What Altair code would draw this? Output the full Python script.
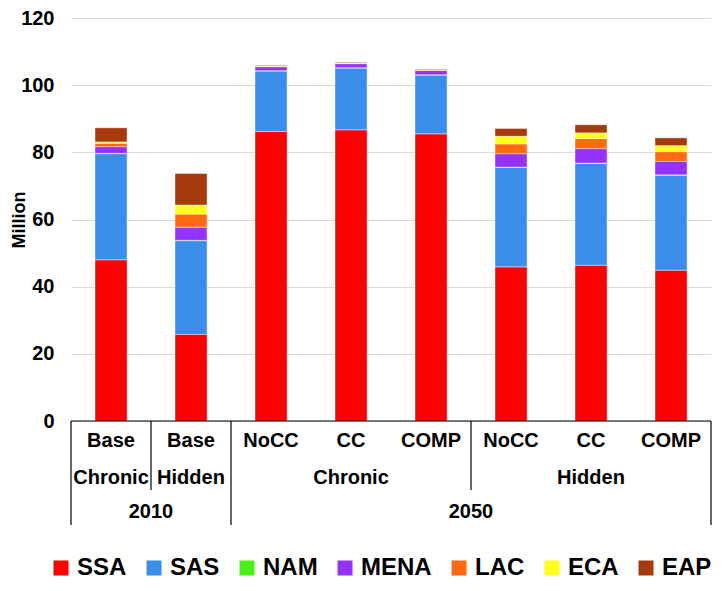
import altair as alt
import pandas as pd

# ---- data ----
cats = ["Base Chronic", "Base Hidden", "NoCC Chronic", "CC Chronic",
        "COMP Chronic", "NoCC Hidden", "CC Hidden", "COMP Hidden"]
scenario = ["Base", "Base", "NoCC", "CC", "COMP", "NoCC", "CC", "COMP"]
regions = ["SSA", "SAS", "NAM", "MENA", "LAC", "ECA", "EAP"]
colors = ["#FF0000", "#3A8EEA", "#4CEE1A", "#9433FF", "#FF6A13", "#FFFF1A", "#A53A0E"]

SSA = [48.0, 25.8, 86.2, 86.7, 85.5, 45.9, 46.4, 44.9]
SAS = [31.6, 27.9, 18.0, 18.4, 17.5, 29.6, 30.3, 28.3]
NAM = [0.1, 0.1, 0.1, 0.1, 0.1, 0.1, 0.1, 0.1]
MENA = [2.0, 3.9, 1.2, 1.2, 1.3, 4.0, 4.3, 4.0]
LAC = [1.0, 3.9, 0.1, 0.1, 0.1, 2.9, 3.0, 2.9]
ECA = [0.4, 2.7, 0.1, 0.1, 0.1, 2.3, 1.7, 1.8]
EAP = [4.2, 9.4, 0.2, 0.2, 0.2, 2.3, 2.4, 2.3]

type_labels = ["Chronic", "Hidden", "Chronic", "Hidden"]
type_at = ["Base Chronic", "Base Hidden", "CC Chronic", "CC Hidden"]
year_labels = ["2010", "2050"]
year_at = ["Base Chronic", "COMP Chronic"]

# ---- layout constants ----
W, H = 645, 403
STEP = 80
FONT = "Liberation Sans"

series = dict(SSA=SSA, SAS=SAS, NAM=NAM, MENA=MENA, LAC=LAC, ECA=ECA, EAP=EAP)
rows = []
for r_i, r in enumerate(regions):
    for c, v in zip(cats, series[r]):
        rows.append({"cat": c, "region": r, "value": v, "ord": r_i})
df = pd.DataFrame(rows)

xscale = alt.Scale(domain=cats, range=[0, STEP * len(cats)],
                   paddingInner=0.6, paddingOuter=0.3)

bars = alt.Chart(df).mark_bar(stroke="white", strokeWidth=0.4).encode(
    x=alt.X("cat:N", scale=xscale, axis=None, sort=cats),
    y=alt.Y("value:Q", stack="zero",
            scale=alt.Scale(domain=[0, 120], nice=False),
            axis=alt.Axis(values=[0, 20, 40, 60, 80, 100, 120], grid=True,
                          gridColor="#d9d9d9", domain=False, ticks=False,
                          labelFontSize=20, labelFontWeight="bold", labelFont=FONT,
                          labelColor="black", labelPadding=17,
                          title="Million", titleFontSize=18, titleFontWeight="bold",
                          titleFont=FONT, titleColor="black", titleX=-52, titleY=H / 2,
                          titleAlign="center", titleBaseline="middle", titleAngle=270)),
    color=alt.Color("region:N", scale=alt.Scale(domain=regions, range=colors),
                    legend=alt.Legend(title=None, orient="none", direction="horizontal",
                                      legendX=-22, legendY=H + 135, symbolType="square",
                                      symbolSize=225, symbolStrokeWidth=0,
                                      labelFontSize=24, labelFontWeight="bold",
                                      labelFont=FONT, labelColor="black",
                                      labelOffset=4, columnPadding=15, padding=0,
                                      labelLimit=200)),
    order=alt.Order("ord:Q"),
)

# table lines under the chart (decoration)
lines = pd.DataFrame({
    "x": [0, STEP, 2 * STEP, 5 * STEP, 8 * STEP],
    "y1": [H, H, H, H, H],
    "y2": [H + 104, H + 69, H + 104, H + 69, H + 104],
})
vlines = alt.Chart(lines).mark_rule(color="black", strokeWidth=1.2).encode(
    x=alt.X("x:Q", scale=None), y=alt.Y("y1:Q", scale=None), y2="y2:Q")
axis_line = alt.Chart(pd.DataFrame({"x": [0], "x2": [8 * STEP], "y": [H]})).mark_rule(
    color="black", strokeWidth=1.2).encode(
    x=alt.X("x:Q", scale=None), x2="x2:Q", y=alt.Y("y:Q", scale=None))

txt_style = dict(fontSize=20, fontWeight="bold", font=FONT, color="black",
                 baseline="middle", align="center")

t1 = alt.Chart(pd.DataFrame({"cat": cats, "lab": scenario})).mark_text(**txt_style).encode(
    x=alt.X("cat:N", scale=xscale, sort=cats), y=alt.value(H + 20), text="lab:N")
t2 = alt.Chart(pd.DataFrame({"cat": type_at, "lab": type_labels})).mark_text(**txt_style).encode(
    x=alt.X("cat:N", scale=xscale, sort=cats), y=alt.value(H + 57), text="lab:N")
t3 = alt.Chart(pd.DataFrame({"cat": year_at, "lab": year_labels})).mark_text(
    dx=STEP / 2, **txt_style).encode(
    x=alt.X("cat:N", scale=xscale, sort=cats), y=alt.value(H + 91), text="lab:N")

chart = alt.layer(bars, vlines, axis_line, t1, t2, t3).properties(
    width=W, height=H, autosize="none",
    padding={"left": 63, "top": 10, "right": 0, "bottom": 162},
).configure_view(stroke=None)

chart.save("out.html", embed_options={"renderer": "svg", "actions": False})
